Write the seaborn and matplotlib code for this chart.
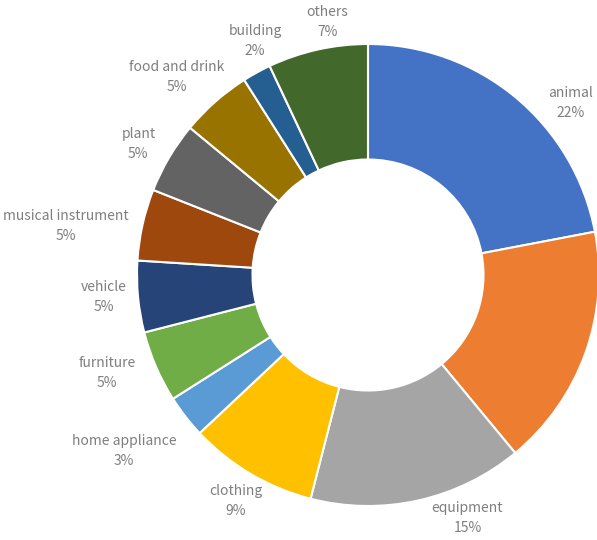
import numpy as np
import matplotlib
matplotlib.use("Agg")
import matplotlib.pyplot as plt
import seaborn as sns

# Share of objects per category (percent), clockwise from 12 o'clock
categories = ["animal", "", "equipment", "clothing", "home appliance", "furniture",
              "vehicle", "musical instrument", "plant", "food and drink",
              "building", "others"]
shares = [22, 17, 15, 9, 3, 5, 5, 5, 5, 5, 2, 7]

# Office-style palette
palette = sns.color_palette(["#4472C4", "#ED7D31", "#A5A5A5", "#FFC000", "#5B9BD5",
                             "#70AD47", "#264478", "#9E480E", "#636363", "#997300",
                             "#255E91", "#43682B"])

# Fine-tuning of label placement (pixels) relative to the radial anchor
label_nudge = {
    "animal": (35, -31), "equipment": (42, 14), "home appliance": (-36, -15),
    "furniture": (-19, 7), "vehicle": (-2, 3), "musical instrument": (-45, -8),
    "plant": (-3, -3), "food and drink": (-17, 0), "building": (14, 3),
    "others": (17, -4), "clothing": (2, 1),
}

sns.set_theme(style="white")
plt.rcParams["font.family"] = ["Noto Sans CJK SC", "DejaVu Sans"]

W, H, DPI = 597, 540, 100
fig = plt.figure(figsize=(W / DPI, H / DPI), dpi=DPI)
ax = fig.add_axes([0, 0, 1, 1])

R_PX = 231.0
cx, cy = 368.0, 275.0

wedges, _ = ax.pie(shares, colors=palette, startangle=90, counterclock=False,
                   radius=1.0, center=(0, 0), frame=True,
                   wedgeprops=dict(width=0.5, edgecolor="white", linewidth=1.5))
ax.set_xlim(-cx / R_PX, (W - cx) / R_PX)
ax.set_ylim(-(H - cy) / R_PX, cy / R_PX)
ax.set_aspect("auto")
ax.axis("off")

total = float(sum(shares))
cum = 0.0
for name, val in zip(categories, shares):
    mid = (cum + val / 2) / total * 2 * np.pi
    cum += val
    if not name:
        continue
    d = 1.14
    x, y = d * np.sin(mid), d * np.cos(mid)
    dx, dy = label_nudge.get(name, (0, 0))
    ax.annotate(f"{name}\n{round(val / total * 100):.0f}%", xy=(x, y),
                xytext=(dx, dy), textcoords="offset pixels",
                ha="center", va="center", fontsize=10, color="#7f7f7f",
                fontweight="light", linespacing=1.55, annotation_clip=False)

fig.savefig("out.png", dpi=DPI)
